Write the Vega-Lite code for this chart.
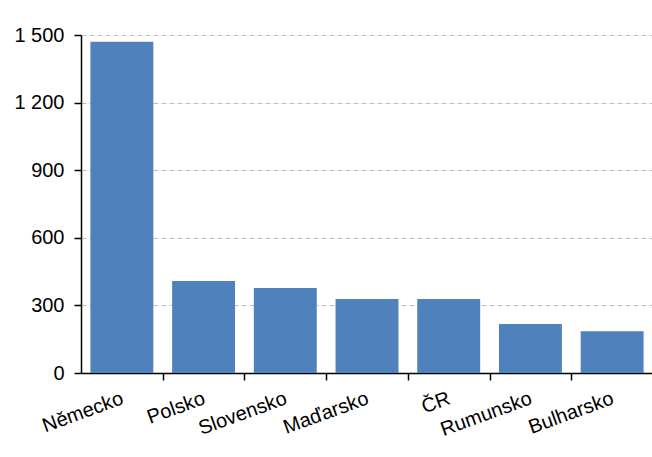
{
  "$schema": "https://vega.github.io/schema/vega-lite/v6.json",
  "autosize": {"type": "none"},
  "padding": {"left": 81, "top": 35, "right": 0, "bottom": 84},
  "width": 572,
  "height": 338,
  "background": "white",
  "data": {
    "values": [
      {"country": "Německo", "value": 1470},
      {"country": "Polsko", "value": 408},
      {"country": "Slovensko", "value": 377},
      {"country": "Maďarsko", "value": 328},
      {"country": "ČR", "value": 328},
      {"country": "Rumunsko", "value": 217},
      {"country": "Bulharsko", "value": 185}
    ]
  },
  "mark": {"type": "bar", "color": "#4f81bd"},
  "encoding": {
    "x": {
      "field": "country",
      "type": "nominal",
      "sort": null,
      "scale": {"paddingInner": 0.23, "paddingOuter": 0.115},
      "axis": {
        "title": null,
        "domainColor": "black",
        "domainWidth": 1.5,
        "tickColor": "black",
        "tickWidth": 1.5,
        "tickSize": 7,
        "tickOffset": 40.9,
        "labelAngle": -20,
        "labelAlign": "right",
        "labelBaseline": "top",
        "labelPadding": 8,
        "labelOffset": -44,
        "labelFont": "Liberation Sans",
        "labelFontSize": 20,
        "labelColor": "black",
        "labelOverlap": false
      }
    },
    "y": {
      "field": "value",
      "type": "quantitative",
      "scale": {"domain": [0, 1500], "nice": false},
      "axis": {
        "title": null,
        "values": [0, 300, 600, 900, 1200, 1500],
        "labelExpr": "replace(format(datum.value, ','), ',', ' ')",
        "domainColor": "black",
        "domainWidth": 1.5,
        "tickColor": "black",
        "tickWidth": 1.5,
        "tickSize": 7,
        "labelPadding": 10,
        "labelFont": "Liberation Sans",
        "labelFontSize": 20,
        "labelColor": "black",
        "grid": true,
        "gridColor": "#bfbfbf",
        "gridDash": [5, 3],
        "gridWidth": 1.2
      }
    }
  },
  "config": {"view": {"stroke": null}}
}
